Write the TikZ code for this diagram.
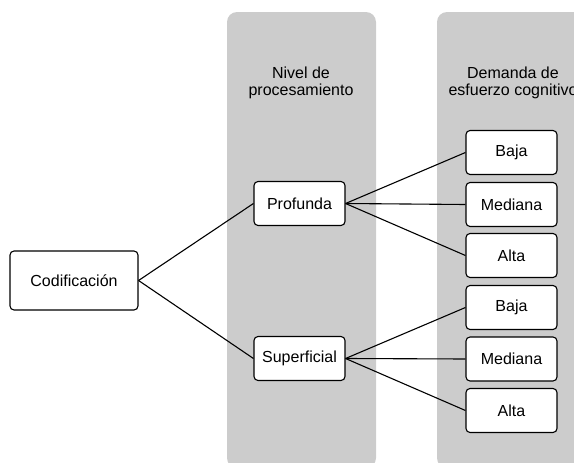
\documentclass[tikz,border=0pt]{standalone}
\usepackage{fontspec}
\setmainfont{Liberation Sans}
\usetikzlibrary{positioning}
\tikzset{
  panel/.style={fill=black!20,draw=none,rounded corners=10pt},
  box/.style={draw,line width=1.1pt,rounded corners=4pt,fill=white,
    minimum width=91pt,minimum height=44pt,inner sep=0pt,
    font=\fontsize{16}{18}\selectfont},
  head/.style={align=center,inner sep=0pt,font=\fontsize{16}{16.5}\selectfont},
  link/.style={line width=1.1pt},
}
\begin{document}
\begin{tikzpicture}[x=1pt,y=-1pt]
\useasboundingbox (0,0) rectangle (574,463);
\clip (0,0) rectangle (574,463);
% columns
\fill[panel] (227,12) rectangle (376,468);
\fill[panel] (437,12) rectangle (600,468);
\node[head] (nivel) at (301,83) {Nivel de\\procesamiento};
\node[head] (demanda) at (513,83) {Demanda de\\esfuerzo cognitivo};
% boxes
\node[box,minimum width=128pt,minimum height=59pt] (cod) at (74,280.5) {Codificación};
\node[box] (prof) at (299.5,203.5) {Profunda};
\node[box] (sup) at (299.5,358.5) {Superficial};
\node[box] (baja1) at (511.5,152.5) {Baja};
\node[box] (med1) at (511.5,204.5) {Mediana};
\node[box] (alta1) at (511.5,255.5) {Alta};
\node[box] (baja2) at (511.5,307.5) {Baja};
\node[box] (med2) at (511.5,359) {Mediana};
\node[box] (alta2) at (511.5,410.5) {Alta};
% links
\draw[link] (cod.east) -- (prof.west);
\draw[link] (cod.east) -- (sup.west);
\foreach \t in {baja1,med1,alta1}
  \draw[link] (prof.east) -- (\t.west);
\foreach \t in {baja2,med2,alta2}
  \draw[link] (sup.east) -- (\t.west);
\end{tikzpicture}
\end{document}
